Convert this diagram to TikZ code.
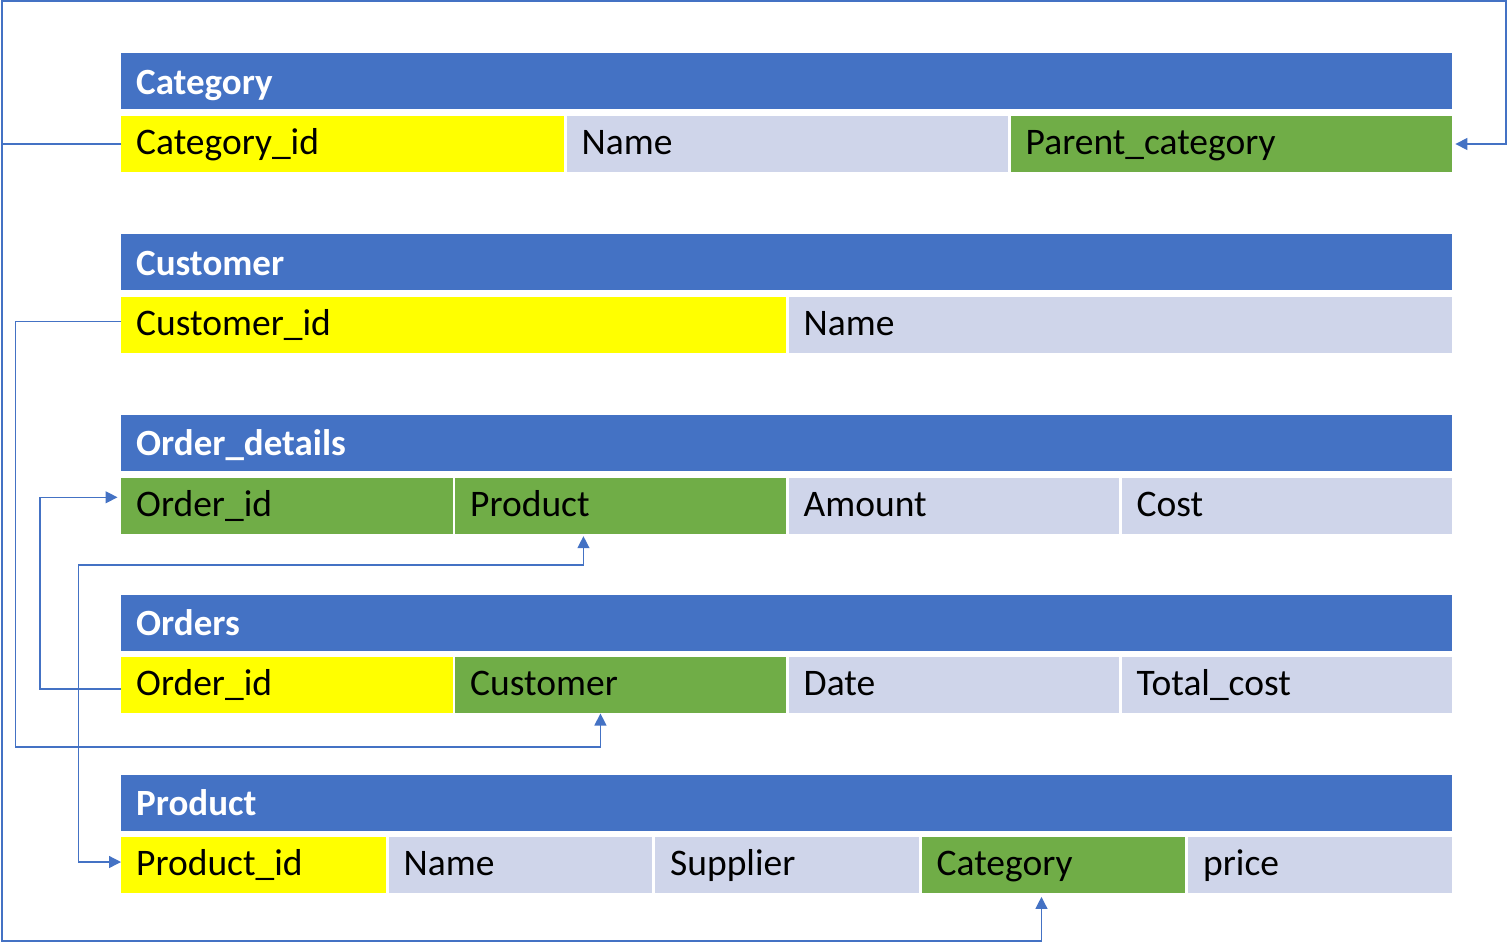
\documentclass[tikz,border=0pt]{standalone}
\usepackage{fontspec}
\setmainfont{Carlito}
\usetikzlibrary{arrows.meta}
\definecolor{hdrblue}{HTML}{4472C4}
\definecolor{keyyel}{HTML}{FFFF00}
\definecolor{fkgreen}{HTML}{70AD47}
\definecolor{plain}{HTML}{CFD5EA}
\definecolor{linec}{HTML}{4472C4}
\newcommand\tcell[6]{%
  \pgfmathsetmacro\cellw{#3-#2}%
  \pgfmathsetmacro\cellt{#3-#2-30}%
  \node[#5, minimum width=\cellw pt, text width=\cellt pt] (#1) at (#2,#4) {#6};}
\begin{document}
\begin{tikzpicture}[x=1pt,y=-1pt,
  basecell/.style={draw=none, minimum height=56pt, inner xsep=15pt, inner ysep=0pt, anchor=west, align=left},
  hdrcell/.style={basecell, fill=hdrblue, text=white, font=\fontsize{37}{42}\selectfont\bfseries, text height=33.5pt, text depth=7pt},
  fldcell/.style={basecell, font=\fontsize{37.5}{42}\selectfont, text height=29pt, text depth=8pt},
  pkcell/.style={fldcell, fill=keyyel},
  fkcell/.style={fldcell, fill=fkgreen},
  attrcell/.style={fldcell, fill=plain},
  conn/.style={draw=linec, line width=1.3pt},
  tipend/.style={-{Triangle[length=12pt,width=12pt]}},
]
\useasboundingbox (0,0) rectangle (1508,943);
% Category
\tcell{cath}{121}{1452}{81}{hdrcell}{Category}
\tcell{catid}{121}{563.5}{144}{pkcell}{Category\_id}
\tcell{catname}{566.5}{1007.5}{144}{attrcell}{Name}
\tcell{catpar}{1010.5}{1452}{144}{fkcell}{Parent\_category}
% Customer
\tcell{custh}{121}{1452}{262}{hdrcell}{Customer}
\tcell{custid}{121}{785.5}{325}{pkcell}{Customer\_id}
\tcell{custname}{788.5}{1452}{325}{attrcell}{Name}
% Order_details
\tcell{odh}{121}{1452}{442.5}{hdrcell}{Order\_details}
\tcell{odid}{121}{452.5}{505.5}{fkcell}{Order\_id}
\tcell{odprod}{455}{785.5}{505.5}{fkcell}{Product}
\tcell{odamt}{788.5}{1118.5}{505.5}{attrcell}{Amount}
\tcell{odcost}{1121.5}{1452}{505.5}{attrcell}{Cost}
% Orders
\tcell{oh}{121}{1452}{622.5}{hdrcell}{Orders}
\tcell{oid}{121}{452.5}{685.3}{pkcell}{Order\_id}
\tcell{ocust}{455}{785.5}{685.3}{fkcell}{Customer}
\tcell{odate}{788.5}{1118.5}{685.3}{attrcell}{Date}
\tcell{ototal}{1121.5}{1452}{685.3}{attrcell}{Total\_cost}
% Product
\tcell{ph}{121}{1452}{802.5}{hdrcell}{Product}
\tcell{pid}{121}{385.5}{865.2}{pkcell}{Product\_id}
\tcell{pname}{388.5}{652}{865.2}{attrcell}{Name}
\tcell{psup}{655}{918.5}{865.2}{attrcell}{Supplier}
\tcell{pcat}{921.5}{1185}{865.2}{fkcell}{Category}
\tcell{pprice}{1188}{1452}{865.2}{attrcell}{price}
% connectors
\draw[conn,tipend,shorten >=3pt] (catid.west) -| (2,1) -| (1506,144) -- (catpar.east);
\draw[conn,tipend,shorten >=3.5pt] (catid.west) -| (2,941) -| ([xshift=-12pt]pcat.south);
\draw[conn,tipend] ([yshift=3.3pt]custid.west) -| (15.5,747) -| ([xshift=-20pt]ocust.south);
\draw[conn,tipend,shorten >=3.5pt] ([yshift=-3.7pt]oid.west) -| (40,497.3) -- ([yshift=8.2pt]odid.west);
\draw[conn,{Triangle[length=12pt,width=12pt]}-{Triangle[length=12pt,width=12pt]},shorten <=2.5pt]
  ([xshift=-37pt]odprod.south) |- (78.5,565) |- ([yshift=3.2pt]pid.west);
\end{tikzpicture}
\end{document}
